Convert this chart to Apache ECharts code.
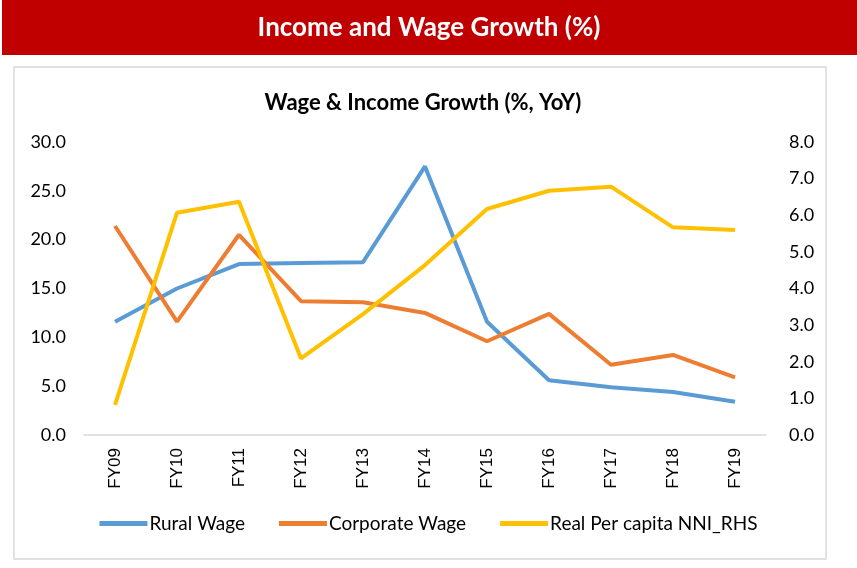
<!DOCTYPE html>
<html><head><meta charset="utf-8">
<script src="https://cdn.jsdelivr.net/npm/echarts@6/dist/echarts.min.js"></script>
<style>html,body{margin:0;padding:0;background:#fff}#c{width:857px;height:568px}</style>
</head><body><div id="c"></div>
<script>
const categories = ['FY09','FY10','FY11','FY12','FY13','FY14','FY15','FY16','FY17','FY18','FY19'];
const ruralWage = [11.6, 15.0, 17.5, 17.6, 17.7, 27.5, 11.6, 5.6, 4.9, 4.4, 3.4];
const corporateWage = [21.4, 11.6, 20.5, 13.7, 13.6, 12.5, 9.6, 12.4, 7.2, 8.2, 5.9];
const realNNI = [0.82, 6.07, 6.37, 2.09, 3.3, 4.64, 6.17, 6.67, 6.78, 5.67, 5.6];
const leftTicks = [0, 30, 5];
const rightTicks = [0, 8, 1];

const FONT = 'Lato';
const chart = echarts.init(document.getElementById('c'));
chart.setOption({
  animation: false,
  graphic: [
    {type:'rect', shape:{x:2,y:0,width:855,height:55}, style:{fill:'#C00000'}, z:-1},
    {type:'text', x:429, y:28, style:{text:'Income and Wage Growth (%)', fill:'#fff', font:'bold 26px '+FONT, textAlign:'center', textVerticalAlign:'middle'}},
    {type:'rect', shape:{x:14,y:67,width:812,height:492}, style:{fill:'none', stroke:'#D9D9D9', lineWidth:1.5}}
  ],
  title: {text:'Wage & Income Growth (%, YoY)', top:87, left:418, textAlign:'center', textStyle:{fontFamily:FONT, fontWeight:'bold', fontSize:22, color:'#000'}},
  grid: {left:84, right:91, top:142, bottom:133},
  legend: {
    top:509, left:'center', itemWidth:48, itemHeight:5, itemGap:34,
    icon:'rect',
    textStyle:{fontFamily:FONT, fontSize:19, color:'#000', padding:[0,0,0,-3]},
    data:['Rural Wage','Corporate Wage','Real Per capita NNI_RHS']
  },
  xAxis: {
    type:'category', data:categories, boundaryGap:true,
    axisLine:{lineStyle:{color:'#D9D9D9', width:1.5}},
    axisTick:{show:false},
    axisLabel:{rotate:90, color:'#000', fontFamily:'Liberation Sans', fontSize:17, margin:13}
  },
  yAxis: [
    {type:'value', min:leftTicks[0], max:leftTicks[1], interval:leftTicks[2],
     splitLine:{show:false}, axisLine:{show:false}, axisTick:{show:false},
     axisLabel:{formatter:v=>v.toFixed(1), color:'#000', fontFamily:FONT, fontSize:18, margin:18}},
    {type:'value', min:rightTicks[0], max:rightTicks[1], interval:rightTicks[2],
     splitLine:{show:false}, axisLine:{show:false}, axisTick:{show:false},
     axisLabel:{formatter:v=>v.toFixed(1), color:'#000', fontFamily:FONT, fontSize:18, margin:23}}
  ],
  series: [
    {name:'Rural Wage', type:'line', data:ruralWage, yAxisIndex:0, symbol:'none', lineStyle:{width:4, color:'#5B9BD5'}, itemStyle:{color:'#5B9BD5'}},
    {name:'Corporate Wage', type:'line', data:corporateWage, yAxisIndex:0, symbol:'none', lineStyle:{width:4, color:'#ED7D31'}, itemStyle:{color:'#ED7D31'}},
    {name:'Real Per capita NNI_RHS', type:'line', data:realNNI, yAxisIndex:1, symbol:'none', lineStyle:{width:4, color:'#FFC000'}, itemStyle:{color:'#FFC000'}}
  ]
});
</script></body></html>
